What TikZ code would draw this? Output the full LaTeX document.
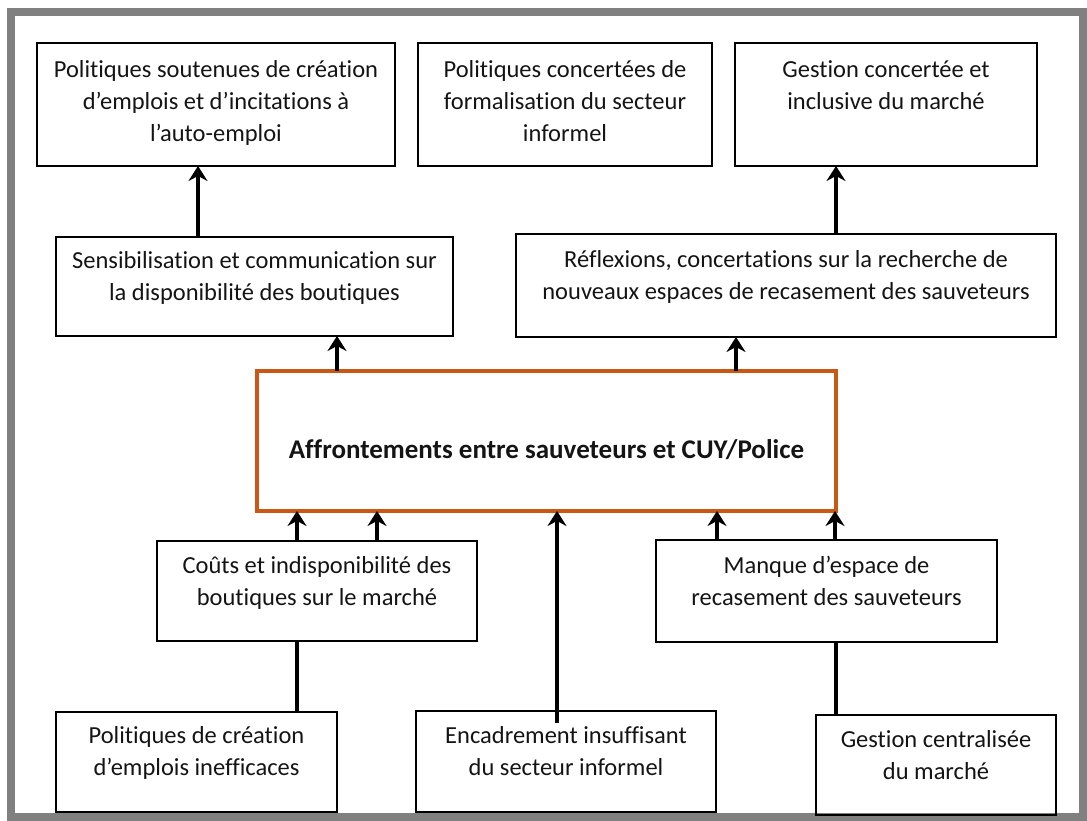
\documentclass[tikz,border=0pt]{standalone}
\usepackage{fontspec}
\setmainfont{Carlito}[Ligatures=CommonOff]
\usetikzlibrary{arrows.meta}
\definecolor{framegray}{RGB}{128,128,128}
\definecolor{hotorange}{RGB}{200,88,20}

\begin{document}
\begin{tikzpicture}[x=1pt,y=-1pt,
  box/.style={draw=black, line width=2.8pt, inner sep=0pt, outer sep=0pt, anchor=north west},
  keybox/.style={box, draw=hotorange, line width=3.2pt},
  lbl/.style={anchor=north, inner sep=0pt, align=center, text=black!92,
    font=\fontsize{24.5}{32}\selectfont},
  keylbl/.style={inner sep=0pt, text=black!92, font=\fontsize{27}{32}\selectfont\bfseries},
  arr/.style={line width=3.2pt, -{Stealth[length=15pt,width=19pt,inset=5pt]}},
  link/.style={line width=3.2pt}]

\useasboundingbox (0,0) rectangle (1087,821);

% outer frame
\draw[framegray, line width=8pt] (11,12) rectangle (1083,817);

% top row: solutions
\node[box, minimum width=358pt, minimum height=123pt] (a1) at (37,43) {};
\node[box, minimum width=294pt, minimum height=123pt] (a2) at (418,43) {};
\node[box, minimum width=302pt, minimum height=123pt] (a3) at (735,43) {};
\node[lbl] (a1t) at ([yshift=-17pt]a1.north) {Politiques soutenues de création\\d’emplois et d’incitations à\\l’auto-emploi};
\node[lbl] (a2t) at ([yshift=-17pt]a2.north) {Politiques concertées de\\formalisation du secteur\\informel};
\node[lbl] (a3t) at ([yshift=-17pt]a3.north) {Gestion concertée et\\inclusive du marché};

% second row: actions
\node[box, minimum width=397pt, minimum height=99pt] (b1) at (56,237) {};
\node[box, minimum width=540pt, minimum height=103pt] (b2) at (516,234) {};
\node[lbl] (b1t) at ([yshift=-14pt]b1.north) {Sensibilisation et communication sur\\la disponibilité des boutiques};
\node[lbl] (b2t) at ([yshift=-16pt]b2.north) {Réflexions, concertations sur la recherche de\\nouveaux espaces de recasement des sauveteurs};

% central problem
\node[keybox, minimum width=579pt, minimum height=140pt] (c) at (257,371) {};
\node[keylbl] (ct) at ([yshift=-9pt]c.center) {Affrontements entre sauveteurs et CUY/Police};

% direct causes
\node[box, minimum width=320pt, minimum height=100pt] (d1) at (157,541) {};
\node[box, minimum width=341pt, minimum height=102pt] (d2) at (656,540) {};
\node[lbl] (d1t) at ([yshift=-15pt]d1.north) {Coûts et indisponibilité des\\boutiques sur le marché};
\node[lbl] (d2t) at ([yshift=-16pt]d2.north) {Manque d’espace de\\recasement des sauveteurs};

% root causes
\node[box, minimum width=281pt, minimum height=100pt] (e1) at (56,712) {};
\node[box, minimum width=300pt, minimum height=101pt] (e2) at (416,711) {};
\node[box, minimum width=240pt, minimum height=100pt] (e3) at (816,715) {};
\node[lbl] (e1t) at ([yshift=-14pt]e1.north) {Politiques de création\\d’emplois inefficaces};
\node[lbl] (e2t) at ([yshift=-15pt]e2.north) {Encadrement insuffisant\\du secteur informel};
\node[lbl] (e3t) at ([yshift=-15pt]e3.north) {Gestion centralisée\\du marché};

% connector columns
\coordinate (ka) at (198,0);
\coordinate (kb) at (337,0);
\coordinate (kc) at (736,0);
\coordinate (kd) at (836,0);
\coordinate (ke) at (297,0);
\coordinate (kf) at (377,0);
\coordinate (kg) at (557,723);
\coordinate (kh) at (717,0);
\coordinate (ki) at (835,0);

% connectors
\draw[arr] (b1.north -| ka) -- (a1.south -| ka);
\draw[arr] (c.north -| kb) -- (b1.south -| kb);
\draw[arr] (c.north -| kc) -- (b2.south -| kc);
\draw[arr] (b2.north -| kd) -- (a3.south -| kd);
\draw[arr] (d1.north -| ke) -- (c.south -| ke);
\draw[arr] (d1.north -| kf) -- (c.south -| kf);
\draw[arr] (kg) -- (c.south -| kg);
\draw[arr] (d2.north -| kh) -- (c.south -| kh);
\draw[arr] (d2.north -| ki) -- (c.south -| ki);
\draw[link] (e1.north -| ke) -- (d1.south -| ke);
\draw[link] (e3.north -| kd) -- (d2.south -| kd);
\end{tikzpicture}
\end{document}
